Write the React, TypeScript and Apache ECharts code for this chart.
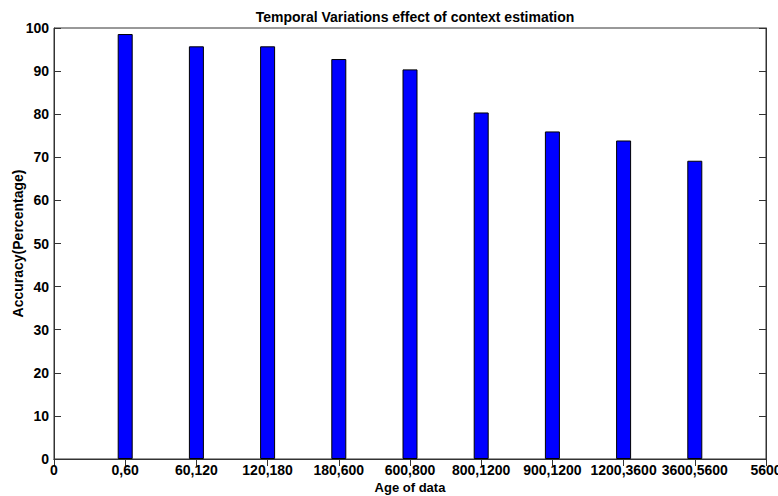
import React, { useEffect, useRef } from "react";
import * as echarts from "echarts";

const categories = ["0", "0,60", "60,120", "120,180", "180,600", "600,800", "800,1200", "900,1200", "1200,3600", "3600,5600", "5600"];
const accuracy = [null, 98.6, 95.75, 95.75, 92.8, 90.4, 80.4, 76.0, 73.9, 69.2, null];
const yMin = 0;
const yMax = 100;
const yStep = 10;

const FONT = "'Liberation Sans Narrow', 'Liberation Sans', Arial, sans-serif";

export default function App() {
  const ref = useRef<HTMLDivElement>(null);
  useEffect(() => {
    if (!ref.current) return;
    const chart = echarts.init(ref.current, null, { renderer: "svg" });
    const axisColor = "#333";
    const labelStyle = { color: "#000", fontFamily: FONT, fontWeight: "bold" as const, fontSize: 14 };
    chart.setOption({
      animation: false,
      backgroundColor: "#fff",
      title: {
        text: "Temporal Variations effect of context estimation",
        left: 410,
        textAlign: "center",
        top: 5,
        textStyle: { ...labelStyle, fontSize: 14 },
      },
      grid: {
        left: 54,
        right: 12,
        top: 28,
        bottom: 37,
        show: true,
        borderColor: axisColor,
        borderWidth: 1,
        containLabel: false,
        outerBoundsMode: "none",
      },
      xAxis: [
        {
          type: "category",
          data: categories,
          boundaryGap: false,
          position: "bottom",
          name: "Age of data",
          nameLocation: "middle",
          nameGap: 22,
          nameMoveOverlap: false,
          nameTextStyle: { ...labelStyle, fontSize: 13 },
          axisLine: { lineStyle: { color: axisColor } },
          axisTick: { show: false },
          axisLabel: { ...labelStyle, margin: 4, interval: 0 },
          splitLine: { show: false },
        },
        {
          type: "category",
          data: categories,
          boundaryGap: false,
          position: "top",
          axisLine: { lineStyle: { color: axisColor } },
          axisTick: { show: true, inside: true, length: 7, lineStyle: { color: axisColor }, interval: 0 },
          axisLabel: { show: false },
          splitLine: { show: false },
        },
      ],
      yAxis: [
        {
          type: "value",
          min: yMin,
          max: yMax,
          interval: yStep,
          name: "Accuracy(Percentage)",
          nameLocation: "middle",
          nameGap: 29,
          nameMoveOverlap: false,
          nameTextStyle: { ...labelStyle },
          axisLine: { show: true, lineStyle: { color: axisColor } },
          axisTick: { show: true, inside: true, length: 7, lineStyle: { color: axisColor } },
          axisLabel: { ...labelStyle, margin: 5 },
          splitLine: { show: false },
        },
        {
          type: "value",
          min: yMin,
          max: yMax,
          interval: yStep,
          position: "right",
          axisLine: { show: true, lineStyle: { color: axisColor } },
          axisTick: { show: true, inside: true, length: 7, lineStyle: { color: axisColor } },
          axisLabel: { show: false },
          splitLine: { show: false },
        },
      ],
      series: [
        {
          type: "bar",
          data: accuracy,
          xAxisIndex: 0,
          yAxisIndex: 0,
          barWidth: 15,
          itemStyle: { color: "#0000ff", borderColor: "#000", borderWidth: 1 },
        },
      ],
    });
    return () => chart.dispose();
  }, []);
  return <div ref={ref} style={{ width: 778, height: 496, position: "absolute", left: 0, top: 0 }} />;
}
